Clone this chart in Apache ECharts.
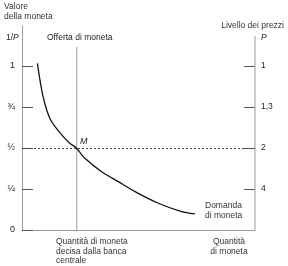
<!DOCTYPE html>
<html>
<head>
<meta charset="utf-8">
<script src="https://cdn.jsdelivr.net/npm/echarts@6/dist/echarts.min.js"></script>
<style>
  html, body { margin: 0; padding: 0; background: #fff; }
  #chart { width: 288px; height: 266px; }
</style>
</head>
<body>
<div id="chart"></div>
<script>
// valore della moneta (1/P) sulle tacche di sinistra
const valueTicks = [0, 0.25, 0.5, 0.75, 1]
const valueLabels = ['0', '¼', '½', '¾', '1']
// livello dei prezzi (P) sulle tacche di destra
const priceTicks = [0.25, 0.5, 0.75, 1]
const priceLabels = ['4', '2', '1,3', '1']

// domanda di moneta: quantità (0-100) e valore della moneta
const demandQty = [6.6, 7.7, 8.9, 10.6, 12.3, 14.2, 17.7, 20.6, 23.3, 27.0, 34.2, 41.3, 48.5, 58.5, 68.5, 74.2]
const demandValue = [1.016, 0.915, 0.823, 0.732, 0.671, 0.630, 0.569, 0.528, 0.5, 0.437, 0.355, 0.295, 0.234, 0.163, 0.112, 0.098]

// offerta di moneta fissata dalla banca centrale
const supplyQty = 23.5
const supplyTop = 1.116
const eqValue = 0.5
const rightAxisTop = 1.183

const font = 'Liberation Sans, Arial, sans-serif'
const gray = '#9a9a9a'

let chart = echarts.init(document.getElementById('chart'))

function label(values, labels) {
    return function (v) {
        for (let i = 0; i < values.length; i++) {
            if (Math.abs(values[i] - v) < 1e-6) return labels[i]
        }
        return ''
    }
}

function text(x, y, str, opts) {
    return {
        type: 'text',
        x: x,
        y: y,
        style: Object.assign({ text: str, font: '8.5px ' + font, fill: '#333', lineHeight: 9.5 }, opts || {})
    }
}

let option = {
    animation: false,
    grid: { left: 22, right: 33, top: 26, bottom: 36 },
    xAxis: {
        type: 'value',
        min: 0,
        max: 100,
        axisLine: { lineStyle: { color: gray, width: 1 } },
        axisTick: { show: false },
        axisLabel: { show: false },
        splitLine: { show: false }
    },
    yAxis: [
        {
            type: 'value',
            min: 0,
            max: 1.244,
            axisLine: { show: true, lineStyle: { color: gray, width: 1 } },
            axisTick: { show: true, inside: true, length: 11, customValues: valueTicks, lineStyle: { color: '#555' } },
            axisLabel: { customValues: valueTicks, formatter: label(valueTicks, valueLabels), margin: 7, fontSize: 9, color: '#222', fontFamily: font },
            splitLine: { show: false }
        },
        {
            type: 'value',
            position: 'right',
            min: 0,
            max: 1.244,
            axisLine: { show: false },
            axisTick: { show: true, inside: true, length: 11, customValues: priceTicks, lineStyle: { color: '#555' } },
            axisLabel: { customValues: priceTicks, formatter: label(priceTicks, priceLabels), margin: 6, fontSize: 8.5, color: '#222', fontFamily: font },
            splitLine: { show: false }
        }
    ],
    series: [
        {
            name: 'Domanda di moneta',
            type: 'line',
            smooth: 0.25,
            symbol: 'none',
            lineStyle: { color: '#111', width: 1.3 },
            data: demandQty.map((q, i) => [q, demandValue[i]]),
            z: 5
        },
        {
            name: 'Offerta di moneta',
            type: 'line',
            symbol: 'none',
            lineStyle: { color: gray, width: 1 },
            data: [[supplyQty, 0], [supplyQty, supplyTop]],
            markLine: {
                silent: true,
                symbol: 'none',
                label: { show: false },
                lineStyle: { type: [2, 2], color: '#444', width: 1 },
                data: [{ yAxis: eqValue }]
            }
        },
        {
            name: 'asse P',
            type: 'line',
            symbol: 'none',
            lineStyle: { color: gray, width: 1 },
            data: [[100, 0], [100, rightAxisTop]]
        }
    ],
    graphic: [
        text(4, 2, 'Valore\ndella moneta'),
        text(6, 33, '1/{i|P}', { fill: '#222', rich: { i: { fontStyle: 'italic', fontSize: 8.5, fontFamily: font } } }),
        text(284, 21, 'Livello dei prezzi', { align: 'right' }),
        text(261, 33, 'P', { font: 'italic 8.5px ' + font, fill: '#222' }),
        text(47, 33, 'Offerta di moneta', { fill: '#222' }),
        text(80, 137, 'M', { font: 'italic 9px ' + font, fill: '#222' }),
        text(205, 201, 'Domanda\ndi moneta'),
        text(56, 237, 'Quantità di moneta\ndecisa dalla banca\ncentrale'),
        text(229, 237, 'Quantità\ndi moneta', { align: 'center' })
    ]
}

chart.setOption(option)
</script>
</body>
</html>
